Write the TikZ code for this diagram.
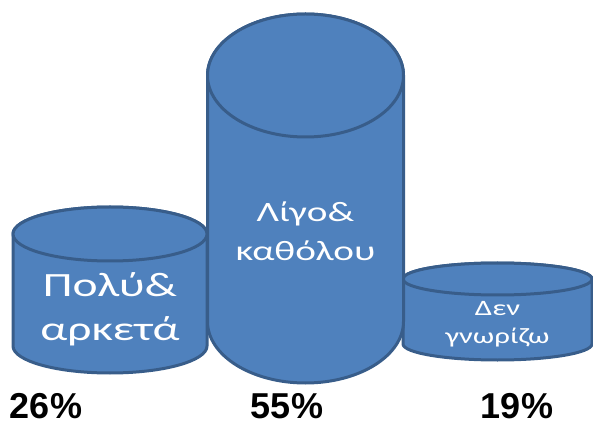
\documentclass[tikz,border=0pt]{standalone}
\usepackage{fontspec}
\setmainfont{Carlito}
\newfontfamily\pctfont{Liberation Sans}
\definecolor{cylfill}{RGB}{79,129,189}
\definecolor{cyledge}{RGB}{56,93,138}

\begin{document}
\begin{tikzpicture}[x=1pt, y=1pt,
  cyl/.style={fill=cylfill, draw=cyledge, line width=3pt, line join=round},
  cyllabel/.style={text=white, align=center, xscale=1.4},
  pct/.style={font=\pctfont\bfseries\fontsize{36}{36}\selectfont, anchor=base, inner sep=0pt, text depth=0pt}]
  \useasboundingbox (0,0) rectangle (593,420);
  % left cylinder
  \draw[cyl] (13,186) -- (13,74) arc[start angle=180, end angle=360, x radius=97pt, y radius=27pt]
    -- (207,186) arc[start angle=0, end angle=180, x radius=97pt, y radius=27pt] -- cycle;
  \draw[cyl] (110,186) ellipse[x radius=97pt, y radius=27pt];
  % right cylinder
  \draw[cyl] (403,141) -- (403,76) arc[start angle=180, end angle=360, x radius=94.5pt, y radius=16pt]
    -- (592,141) arc[start angle=0, end angle=180, x radius=94.5pt, y radius=16pt] -- cycle;
  \draw[cyl] (497.5,141) ellipse[x radius=94.5pt, y radius=16pt];
  % middle cylinder
  \draw[cyl] (207.5,344.5) -- (207.5,98.5) arc[start angle=180, end angle=360, x radius=98pt, y radius=61.5pt]
    -- (403.5,344.5) arc[start angle=0, end angle=180, x radius=98pt, y radius=61.5pt] -- cycle;
  \draw[cyl] (305.5,344.5) ellipse[x radius=98pt, y radius=61.5pt];
  % labels
  \node[cyllabel, font=\fontsize{34}{44}\selectfont] (polu) at (110,111) {Πολύ\&\\αρκετά};
  \node[cyllabel, font=\fontsize{28}{39}\selectfont] (ligo) at (305.5,188.5) {Λίγο\&\\καθόλου};
  \node[cyllabel, font=\fontsize{22}{28}\selectfont] (den) at (497.5,96) {Δεν\\γνωρίζω};
  % percentages
  \node[pct] (p26) at (46,2) {26\%};
  \node[pct] (p55) at (287,2) {55\%};
  \node[pct] (p19) at (517,2) {19\%};
\end{tikzpicture}
\end{document}
